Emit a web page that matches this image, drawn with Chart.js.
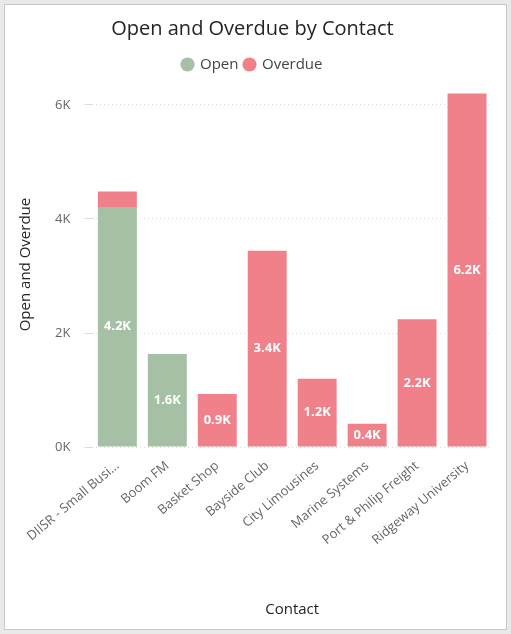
<!DOCTYPE html>
<html>
<head>
<meta charset="utf-8">
<script src="https://cdn.jsdelivr.net/npm/chart.js@4/dist/chart.umd.min.js"></script>
<style>
  body { margin: 0; background: #e9e9e9; }
  .card { position: absolute; left: 4px; top: 4px; width: 501px; height: 624px; background: #fff; border: 1px solid #c8c8c8; }
</style>
</head>
<body>
<div class="card"><canvas id="chart" width="501" height="624"></canvas></div>
<script>
const contacts = ['DIISR - Small Busi...', 'Boom FM', 'Basket Shop', 'Bayside Club', 'City Limousines', 'Marine Systems', 'Port & Philip Freight', 'Ridgeway University'];
const openVals = [4210, 1630, 0, 0, 0, 0, 0, 0];
const overdueVals = [270, 0, 930, 3440, 1200, 410, 2240, 6200];

// white value labels in the middle of each bar
const barLabels = {
  id: 'barLabels',
  afterDatasetsDraw(chart) {
    const ctx = chart.ctx;
    ctx.save();
    ctx.fillStyle = '#fff';
    ctx.font = 'bold 13px "Open Sans"';
    ctx.textAlign = 'center';
    ctx.textBaseline = 'middle';
    chart.data.datasets.forEach((ds, i) => {
      chart.getDatasetMeta(i).data.forEach((bar, j) => {
        const v = ds.data[j];
        if (v < 350) return;
        ctx.fillText((v / 1000).toFixed(1) + 'K', bar.x, (bar.y + bar.base) / 2);
      });
    });
    ctx.restore();
  }
};

new Chart(document.getElementById('chart'), {
  type: 'bar',
  data: {
    labels: contacts,
    datasets: [
      { label: 'Open', data: openVals, backgroundColor: '#a5c0a5', categoryPercentage: 0.78, barPercentage: 1 },
      { label: 'Overdue', data: overdueVals, backgroundColor: '#f0818b', categoryPercentage: 0.78, barPercentage: 1 }
    ]
  },
  options: {
    responsive: false,
    animation: false,
    layout: { padding: { left: 8, right: 14, top: 4, bottom: 6 } },
    plugins: {
      title: { display: true, text: 'Open and Overdue by Contact', color: '#252423', font: { family: 'Open Sans', size: 20, weight: 'normal' }, padding: { top: 8, bottom: 10 } },
      legend: { labels: { usePointStyle: true, pointStyle: 'circle', boxWidth: 10, boxHeight: 10, color: '#444', font: { family: 'Open Sans', size: 15 }, padding: 6 } },
      tooltip: { enabled: false }
    },
    scales: {
      x: {
        stacked: true,
        grid: { display: false },
        border: { display: false },
        ticks: { maxRotation: 40, minRotation: 40, color: '#666', font: { family: 'Open Sans', size: 13 } },
        title: { display: true, text: 'Contact', color: '#252423', font: { family: 'Open Sans', size: 15 }, padding: { top: 50 } }
      },
      y: {
        stacked: true,
        min: 0, max: 6400,
        afterBuildTicks: (s) => { s.ticks = [0, 2000, 4000, 6000].map(v => ({ value: v })); },
        grid: { color: '#dcdcdc', lineWidth: 1 },
        border: { display: false, dash: [1, 3] },
        ticks: { color: '#666', padding: 14, font: { family: 'Open Sans', size: 13 }, callback: v => (v / 1000) + 'K' },
        title: { display: true, text: 'Open and Overdue', color: '#252423', font: { family: 'Open Sans', size: 15 }, padding: { bottom: 6 } }
      }
    }
  },
  plugins: [barLabels]
});
</script>
</body>
</html>
